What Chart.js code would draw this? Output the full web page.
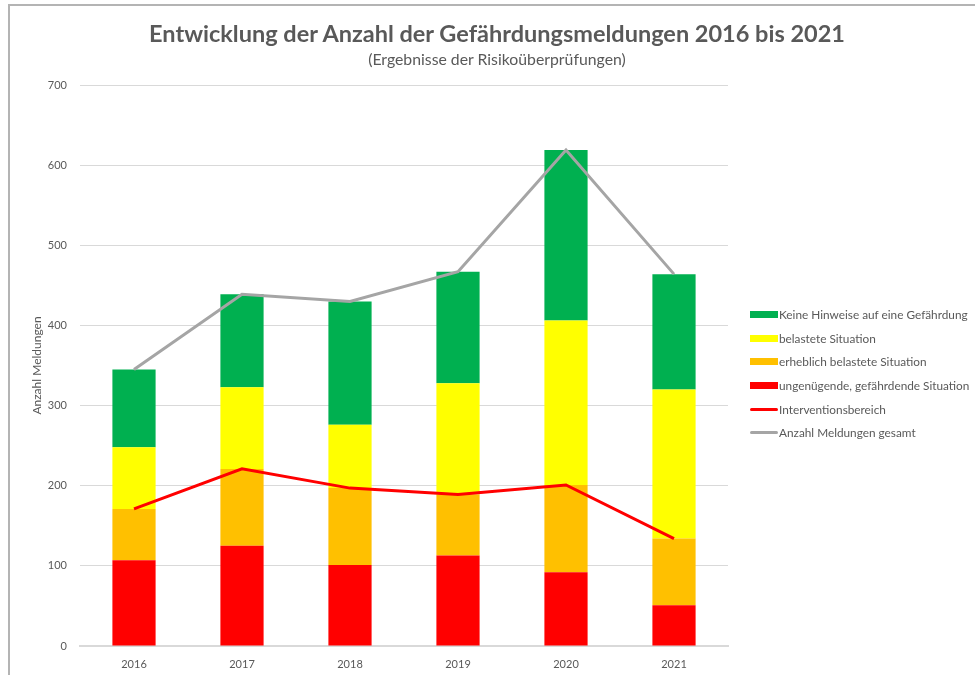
<!DOCTYPE html>
<html>
<head>
<meta charset="utf-8">
<script src="https://cdn.jsdelivr.net/npm/chart.js@4.4.0/dist/chart.umd.min.js"></script>
<style>
    body { margin: 0; background: #fff; }
    #wrap { position: relative; width: 975px; height: 675px; overflow: hidden; }
    #frame { position: absolute; left: 8px; top: 4px; width: 1000px; height: 700px; border-top: 2px solid #b4b4b4; border-left: 2px solid #b4b4b4; }
    #chart { position: absolute; left: 0; top: 0; }
    .ttl { position: absolute; left: 0; width: 994px; text-align: center; white-space: nowrap; font-family: Lato, sans-serif; color: #595959; }
    #title { top: 18px; font-size: 23.5px; font-weight: bold; line-height: 30px; }
    #subtitle { top: 49px; font-size: 15.8px; line-height: 20px; }
    #legend { position: absolute; left: 750px; top: 303px; font-family: Lato, sans-serif; font-size: 11.8px; color: #595959; }
    .row { height: 23.6px; display: flex; align-items: center; white-space: nowrap; }
    .sw { width: 28px; margin-right: 1px; }
</style>
</head>
<body>
<div id="wrap">
    <div id="frame"></div>
    <canvas id="chart" width="975" height="675"></canvas>
    <div id="title" class="ttl">Entwicklung der Anzahl der Gefährdungsmeldungen 2016 bis 2021</div>
    <div id="subtitle" class="ttl">(Ergebnisse der Risikoüberprüfungen)</div>
    <div id="legend"></div>
</div>
<script>
// Data
const years = ['2016', '2017', '2018', '2019', '2020', '2021'];
const ungenuegend = [107, 125, 101, 113, 92, 51];
const erheblich = [64, 96, 96, 76, 109, 83];
const belastet = [77, 102, 79, 139, 205, 186];
const keineHinweise = [97, 116, 154, 139, 213, 144];
const intervention = [171, 221, 197, 189, 201, 134];
const gesamt = [345, 439, 430, 467, 619, 464];
const yTicks = [0, 100, 200, 300, 400, 500, 600, 700];

const textColor = '#595959';
const fontFamily = 'Lato, sans-serif';

function barSet(label, data, color) {
    return {
        type: 'bar',
        label: label,
        data: data,
        backgroundColor: color,
        stack: 'bars',
        order: 1,
        barPercentage: 0.4,
        categoryPercentage: 1.0
    };
}

function lineSet(label, data, color, stack) {
    return {
        type: 'line',
        label: label,
        data: data,
        borderColor: color,
        backgroundColor: color,
        borderWidth: 3,
        pointRadius: 0,
        tension: 0,
        stack: stack,
        order: 0
    };
}

const datasets = [
    barSet('ungenügende, gefährdende Situation', ungenuegend, '#FF0000'),
    barSet('erheblich belastete Situation', erheblich, '#FFC000'),
    barSet('belastete Situation', belastet, '#FFFF00'),
    barSet('Keine Hinweise auf eine Gefährdung', keineHinweise, '#00B050'),
    lineSet('Interventionsbereich', intervention, '#FF0000', 'l1'),
    lineSet('Anzahl Meldungen gesamt', gesamt, '#A5A5A5', 'l2')
];

const chart = new Chart(document.getElementById('chart'), {
    data: { labels: years, datasets: datasets },
    options: {
        responsive: false,
        animation: false,
        layout: { padding: { left: 0, right: 247, top: 85, bottom: 0 } },
        plugins: {
            legend: { display: false },
            tooltip: { enabled: false }
        },
        scales: {
            x: {
                stacked: true,
                grid: { display: false },
                border: { color: '#d9d9d9', width: 2 },
                afterFit: function(scale) { scale.height = 29; },
                ticks: { color: textColor, font: { family: fontFamily, size: 11 }, padding: 4 }
            },
            y: {
                stacked: true,
                min: 0,
                max: 700,
                afterBuildTicks: function(scale) {
                    scale.ticks = yTicks.map(v => ({ value: v }));
                },
                afterFit: function(scale) { scale.width = 80; },
                grid: { color: '#d9d9d9', drawTicks: false },
                border: { display: false },
                ticks: { color: textColor, font: { family: fontFamily, size: 11 }, padding: 13 },
                title: {
                    display: true,
                    text: 'Anzahl Meldungen',
                    color: textColor,
                    font: { family: fontFamily, size: 12 },
                    padding: { top: 30, bottom: 0 }
                }
            }
        }
    }
});

// HTML legend, in the reference's order
const legendOrder = [3, 2, 1, 0, 4, 5];
const legend = document.getElementById('legend');
legendOrder.forEach(i => {
    const ds = datasets[i];
    const row = document.createElement('div');
    row.className = 'row';
    const sw = document.createElement('div');
    sw.className = 'sw';
    sw.style.height = ds.type === 'line' ? '3px' : '7px';
    sw.style.background = ds.type === 'line' ? ds.borderColor : ds.backgroundColor;
    if (ds.type === 'line') sw.style.borderRadius = '2px';
    const txt = document.createElement('span');
    txt.textContent = ds.label;
    row.appendChild(sw);
    row.appendChild(txt);
    legend.appendChild(row);
});
</script>
</body>
</html>
